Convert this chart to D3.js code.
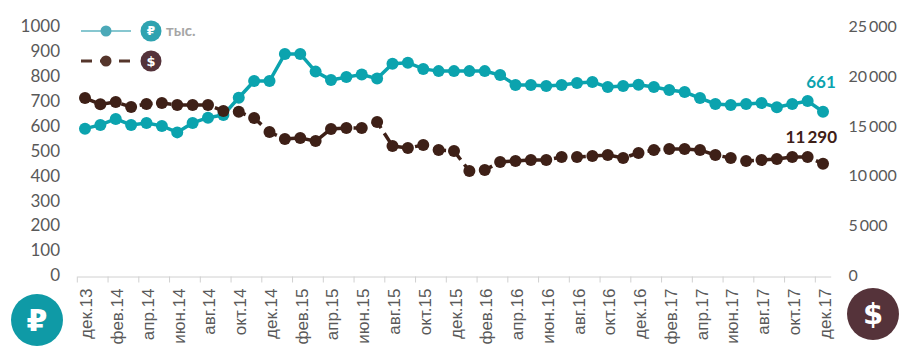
<!DOCTYPE html>
<html><head><meta charset="utf-8">
<script src="https://cdn.jsdelivr.net/npm/d3@7/dist/d3.min.js"></script>
<style>html,body{margin:0;padding:0;background:#fff}svg{display:block}</style>
</head><body><svg id="c" width="916" height="355"></svg>
<script>
const categories = ["дек.13","янв.14","фев.14","мар.14","апр.14","май.14","июн.14","июл.14","авг.14","сен.14","окт.14","ноя.14","дек.14","янв.15","фев.15","мар.15","апр.15","май.15","июн.15","июл.15","авг.15","сен.15","окт.15","ноя.15","дек.15","янв.16","фев.16","мар.16","апр.16","май.16","июн.16","июл.16","авг.16","сен.16","окт.16","ноя.16","дек.16","янв.17","фев.17","мар.17","апр.17","май.17","июн.17","июл.17","авг.17","сен.17","окт.17","ноя.17","дек.17"];
const rubValues = [593,608,632,608,616,604,578,616,637,648,717,784,784,893,893,822,788,800,810,794,854,858,833,824,824,824,824,808,768,768,764,768,776,780,760,764,769,760,748,740,716,692,688,692,696,679,692,704,661];
const usdValues = [17900,17270,17500,17000,17300,17400,17200,17200,17200,16600,16530,15890,14490,13790,13890,13580,14790,14890,14890,15490,13080,12880,13180,12680,12580,10570,10670,11480,11580,11680,11680,11980,11980,12080,12180,11880,12380,12680,12780,12780,12680,12180,11880,11580,11680,11780,11980,11980,11290];
const leftTicks = [0,100,200,300,400,500,600,700,800,900,1000];
const rightTicks = [0,5000,10000,15000,20000,25000];
const TEAL="#0ba3ae", BROWN="#3e2017", GRAY="#595959";
const svg=d3.select("#c");
const x=d3.scaleBand().domain(categories).range([77.3,830.7]);
const yL=d3.scaleLinear().domain([0,1000]).range([276.3,27.3]);
const yR=d3.scaleLinear().domain([0,25000]).range([276.3,27.3]);
const cx=d=>x(d)+x.bandwidth()/2;
const numFont="Lato, 'Open Sans', sans-serif";

const gl=svg.append("g").attr("transform","translate(60,-1)")
  .call(d3.axisLeft(yL).tickValues(leftTicks).tickSize(0).tickPadding(0).tickFormat(d3.format("d")));
gl.select(".domain").remove();
gl.selectAll("text").attr("font-family",numFont).attr("font-size",17).attr("fill",GRAY);
const fmt=d=>d===0?"0":d3.format(",")(d).replace(",","\u2009");
const gr=svg.append("g").attr("transform","translate(848.5,-1)")
  .call(d3.axisRight(yR).tickValues(rightTicks).tickSize(0).tickPadding(0).tickFormat(fmt));
gr.select(".domain").remove();
gr.selectAll("text").attr("font-family",numFont).attr("font-size",16).attr("fill",GRAY);
const shown=categories.filter((d,i)=>i%2===0);
const gx=svg.append("g").attr("transform","translate(0,276.5)")
  .call(d3.axisBottom(x).tickValues(shown).tickSize(0).tickPadding(0));
gx.select(".domain").attr("stroke","#d0d0d0").attr("stroke-width",1);
gx.selectAll(".tick line").attr("y2",6).attr("stroke","#d0d0d0").attr("x1",-x.bandwidth()/2).attr("x2",-x.bandwidth()/2);
gx.selectAll(".tick text").attr("font-family","'Liberation Sans',Arial,sans-serif").attr("font-size",17).attr("fill",GRAY)
  .attr("text-anchor","end").attr("dy",0).attr("y",0)
  .attr("transform","translate(2,12) rotate(-90)").attr("dominant-baseline","central");

const line=(sc)=>d3.line().x((d,i)=>cx(categories[i])).y(d=>sc(d));
svg.append("path").datum(rubValues).attr("d",line(yL)).attr("fill","none").attr("stroke",TEAL).attr("stroke-width",3.5);
svg.append("g").selectAll("circle").data(rubValues).join("circle")
  .attr("cx",(d,i)=>cx(categories[i])).attr("cy",d=>yL(d)).attr("r",6).attr("fill",TEAL);
svg.append("path").datum(usdValues).attr("d",line(yR)).attr("fill","none").attr("stroke",BROWN).attr("stroke-width",3.5).attr("stroke-dasharray","13 6");
svg.append("g").selectAll("circle").data(usdValues).join("circle")
  .attr("cx",(d,i)=>cx(categories[i])).attr("cy",d=>yR(d)).attr("r",6).attr("fill",BROWN);

svg.append("text").attr("x",821).attr("y",88).attr("text-anchor","middle")
  .attr("font-family",numFont).attr("font-weight",700).attr("font-size",17).attr("fill",TEAL).text(rubValues[48]);
svg.append("text").attr("x",837).attr("y",143).attr("text-anchor","end")
  .attr("font-family",numFont).attr("font-weight",700).attr("font-size",17).attr("fill",BROWN).text("11\u2009290");

const leg=svg.append("g");
leg.append("line").attr("x1",81).attr("x2",131).attr("y1",31).attr("y2",31).attr("stroke","#5fb5c0").attr("stroke-width",1.6);
leg.append("circle").attr("cx",106).attr("cy",31).attr("r",5.5).attr("fill","#4ba9b8");
leg.append("line").attr("x1",81).attr("x2",131).attr("y1",61).attr("y2",61).attr("stroke","#55352b").attr("stroke-width",3).attr("stroke-dasharray","11 8");
leg.append("circle").attr("cx",106).attr("cy",61).attr("r",5.5).attr("fill","#55352b");
function icon(cxp,cyp,r,fill,ch,fs){
  leg.append("circle").attr("cx",cxp).attr("cy",cyp).attr("r",r).attr("fill",fill);
  leg.append("text").attr("x",cxp).attr("y",cyp).attr("text-anchor","middle").attr("dominant-baseline","central")
   .attr("font-family","'DejaVu Sans',sans-serif").attr("font-weight",700).attr("font-size",fs).attr("fill","#fff").text(ch);
}
icon(151,31,10.5,"#2fa3b0","₽",12);
icon(151,61,10.5,"#54323a","$",13);
icon(37,320,26,"#0f9aa6","₽",30);
icon(873,314,26,"#55333a","$",29);
leg.append("text").attr("x",166).attr("y",36).attr("font-family",numFont).attr("font-weight",700).attr("font-size",15).attr("fill","#a6a6a6").text("тыс.");
</script></body></html>
